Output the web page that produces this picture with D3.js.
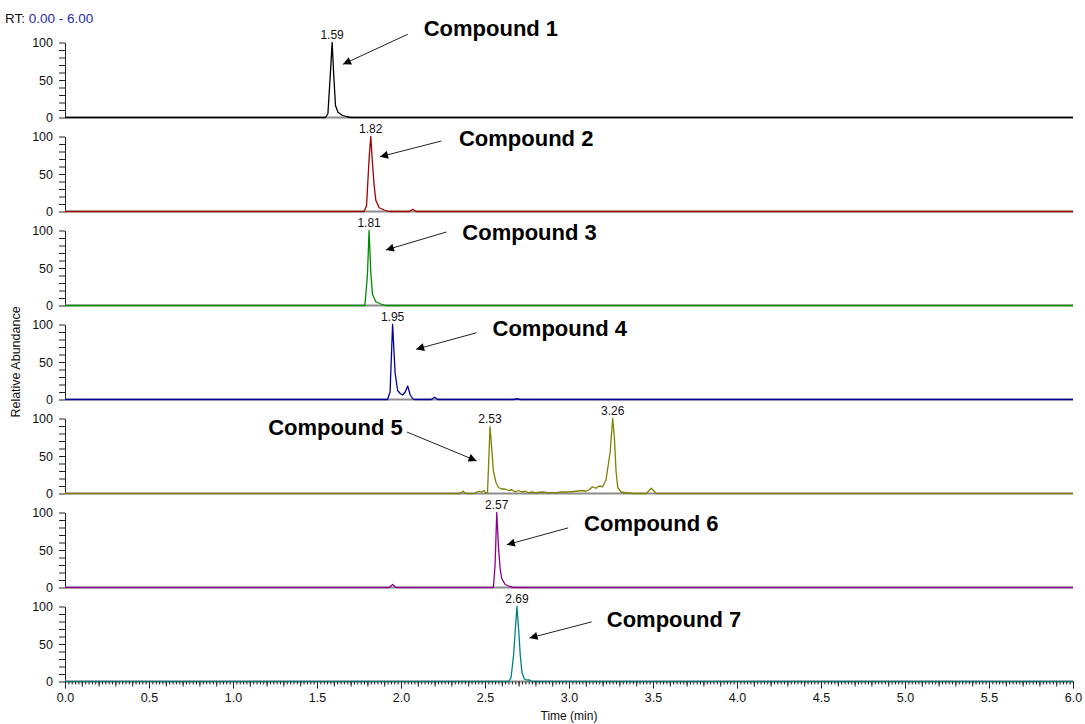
<!DOCTYPE html>
<html>
<head>
<meta charset="utf-8">
<script src="https://cdn.jsdelivr.net/npm/d3@7"></script>
<style>
  body { margin: 0; background: #fff; }
  svg text { font-family: "Liberation Sans", Arial, sans-serif; }
</style>
</head>
<body>
<svg id="chart" width="1085" height="724"></svg>
<script>
// ---- chromatogram data: retention time (min) vs relative abundance (%) ----
const compoundNames = ["Compound 1", "Compound 2", "Compound 3", "Compound 4", "Compound 5", "Compound 6", "Compound 7"];
const traceColors = ["#000000", "#a00000", "#008a00", "#00009a", "#808000", "#8a008a", "#008080"];
const peakLabels = [[1.59], [1.82], [1.81], [1.95], [2.53, 3.26], [2.57], [2.69]];
const timeTicks = [0, 0.5, 1, 1.5, 2, 2.5, 3, 3.5, 4, 4.5, 5, 5.5, 6];
const abundanceTicks = [0, 50, 100];
const rtRange = [0, 6];

const trace1 = [[0,0],[1.55,0],[1.565,5],[1.58,60],[1.59,100],[1.60,55],[1.61,16],[1.625,7],[1.65,3],[1.68,1],[1.70,0],[6,0]];
const trace2 = [[0,0],[1.78,0],[1.795,8],[1.81,70],[1.82,100],[1.83,65],[1.84,35],[1.85,15],[1.87,5],[1.90,2],[1.93,0],[2.05,0],[2.07,3],[2.09,0],[6,0]];
const trace3 = [[0,0],[1.785,0],[1.80,40],[1.81,100],[1.82,45],[1.83,15],[1.85,5],[1.88,2],[1.91,0],[6,0]];
const trace4 = [[0,0],[1.92,0],[1.935,10],[1.95,100],[1.965,35],[1.98,12],[1.995,8],[2.01,6],[2.025,10],[2.04,18],[2.055,6],[2.07,1],[2.08,0],[2.18,0],[2.20,3],[2.22,0],[2.67,0],[2.69,1],[2.71,0],[6,0]];
const trace5 = [[0,0],[2.35,0],[2.37,3],[2.385,0],[2.44,0],[2.45,2],[2.465,3],[2.48,2],[2.495,4],[2.505,0],[2.515,1],[2.525,60],[2.53,89],[2.54,60],[2.55,30],[2.565,15],[2.58,8],[2.60,6],[2.62,6],[2.64,4],[2.66,5],[2.68,2],[2.70,4],[2.72,2],[2.74,3],[2.76,1],[2.78,2],[2.80,1],[2.84,2],[2.88,1],[2.92,1],[2.96,2],[3.00,2],[3.04,3],[3.08,4],[3.10,3],[3.12,5],[3.14,9],[3.16,7],[3.18,10],[3.20,9],[3.22,18],[3.245,55],[3.26,100],[3.27,75],[3.28,30],[3.29,8],[3.31,2],[3.34,1],[3.38,0],[3.46,0],[3.49,7],[3.52,0],[6,0]];
const trace6 = [[0,0],[1.93,0],[1.95,4],[1.97,0],[2.55,0],[2.56,30],[2.57,100],[2.58,55],[2.59,25],[2.60,12],[2.62,4],[2.65,1],[2.67,0],[6,0]];
const trace7 = [[0,0],[2.64,0],[2.655,5],[2.67,35],[2.69,100],[2.70,70],[2.71,35],[2.72,12],[2.735,3],[2.75,2],[2.765,2],[2.78,0],[6,0]];
const traces = [trace1, trace2, trace3, trace4, trace5, trace6, trace7];

// ---- layout ----
const svg = d3.select("#chart");
const W = 1085, H = 724;
svg.append("rect").attr("width", W).attr("height", H).attr("fill", "#fff");

const x = d3.scaleLinear().domain(rtRange).range([65, 1073]);
const firstBase = 117.5, panelStep = 94, panelH = 75;
const yFor = i => d3.scaleLinear().domain([0, 100]).range([firstBase + panelStep * i, firstBase + panelStep * i - panelH]);

// arrow head marker
svg.append("defs").append("marker")
  .attr("id", "arrowHead")
  .attr("viewBox", "0 0 10 10")
  .attr("refX", 10).attr("refY", 5)
  .attr("markerUnits", "userSpaceOnUse")
  .attr("markerWidth", 11).attr("markerHeight", 8)
  .attr("orient", "auto")
  .append("path").attr("d", "M0,0 L10,5 L0,10 Z").attr("fill", "#000");

// compound annotations: label position and arrow, in (time, abundance) of each panel
const annotations = [
  { text: [2.135, 108.5], anchor: "start", tail: [2.04, 111], tip: [1.655, 71] },
  { text: [2.345, 87.5],  anchor: "start", tail: [2.24, 94],  tip: [1.875, 73] },
  { text: [2.365, 87.5],  anchor: "start", tail: [2.27, 98],  tip: [1.91, 74] },
  { text: [2.545, 85],    anchor: "start", tail: [2.45, 89],  tip: [2.09, 67] },
  { text: [2.01, 78],     anchor: "end",   tail: [2.035, 82], tip: [2.45, 43.5] },
  { text: [3.09, 75.5],   anchor: "start", tail: [2.995, 79.5], tip: [2.63, 57] },
  { text: [3.225, 73],    anchor: "start", tail: [3.135, 79.5], tip: [2.765, 58] }
];

traces.forEach((data, i) => {
  const y = yFor(i);
  const g = svg.append("g").attr("class", "panel");

  // y axis
  const yAxis = d3.axisLeft(y)
    .tickValues(d3.range(0, 101, 10))
    .tickSize(6).tickSizeOuter(0).tickPadding(6)
    .tickFormat(d => abundanceTicks.includes(d) ? d : "");
  const ya = g.append("g").attr("transform", `translate(${x(0)},0)`).call(yAxis);
  ya.selectAll("path, line").attr("stroke", "#222");
  ya.selectAll("text").attr("font-size", 12.5).attr("fill", "#111")
    .attr("font-family", "'Liberation Sans', Arial, sans-serif");

  // baseline
  g.append("line")
    .attr("x1", x(rtRange[0])).attr("x2", x(rtRange[1]))
    .attr("y1", y(0)).attr("y2", y(0))
    .attr("stroke", "#8c8c8c").attr("stroke-width", 2);

  // chromatogram trace
  const line = d3.line().x(d => x(d[0])).y(d => y(d[1]));
  g.append("path").datum(data)
    .attr("d", line)
    .attr("fill", "none")
    .attr("stroke", traceColors[i])
    .attr("stroke-width", 1.3)
    .attr("stroke-linejoin", "round");

  // apex retention time labels
  peakLabels[i].forEach(rt => {
    const apex = data.find(d => Math.abs(d[0] - rt) < 1e-9);
    g.append("text")
      .attr("x", x(rt)).attr("y", y(apex[1]) - 4)
      .attr("text-anchor", "middle")
      .attr("font-size", 12).attr("fill", "#111")
      .text(rt.toFixed(2));
  });

  // compound label and arrow
  const a = annotations[i];
  g.append("line")
    .attr("x1", x(a.tail[0])).attr("y1", y(a.tail[1]))
    .attr("x2", x(a.tip[0])).attr("y2", y(a.tip[1]))
    .attr("stroke", "#222").attr("stroke-width", 1)
    .attr("marker-end", "url(#arrowHead)");
  g.append("text")
    .attr("x", x(a.text[0])).attr("y", y(a.text[1]))
    .attr("text-anchor", a.anchor)
    .attr("font-size", 22).attr("font-weight", "bold").attr("fill", "#000")
    .text(compoundNames[i]);
});

// bottom time axis with minor ticks
const yBottom = yFor(traces.length - 1)(0);
const minorAxis = d3.axisBottom(x).tickValues(d3.range(0, 301).map(k => k * 0.02)).tickSize(3).tickFormat("");
const midAxis = d3.axisBottom(x).tickValues(d3.range(0, 61).map(k => k * 0.1)).tickSize(5).tickFormat("");
const majorAxis = d3.axisBottom(x).tickValues(timeTicks).tickSize(7).tickSizeOuter(0).tickPadding(5)
  .tickFormat(d3.format(".1f"));
[minorAxis, midAxis, majorAxis].forEach(ax => {
  const ga = svg.append("g").attr("transform", `translate(0,${yBottom})`).call(ax);
  ga.select(".domain").remove();
  ga.selectAll("line").attr("stroke", "#222");
  ga.selectAll("text").attr("font-size", 12.5).attr("fill", "#111")
    .attr("font-family", "'Liberation Sans', Arial, sans-serif");
});

// axis titles
svg.append("text")
  .attr("x", (x(0) + x(6)) / 2).attr("y", 720)
  .attr("text-anchor", "middle").attr("font-size", 12).attr("fill", "#111")
  .text("Time (min)");
svg.append("text")
  .attr("transform", "translate(20,362) rotate(-90)")
  .attr("text-anchor", "middle").attr("font-size", 12.5).attr("fill", "#111")
  .text("Relative Abundance");

// range header
const hdr = svg.append("text").attr("x", 5).attr("y", 23).attr("font-size", 13.5);
hdr.append("tspan").attr("fill", "#111").text("RT: ");
hdr.append("tspan").attr("fill", "#2a2ab0").text("0.00 - 6.00");
</script>
</body>
</html>
